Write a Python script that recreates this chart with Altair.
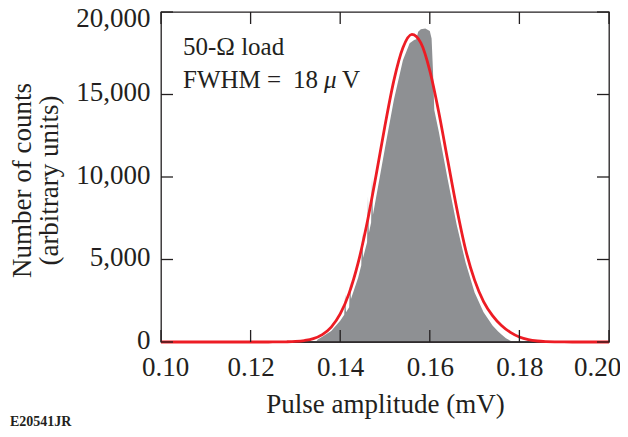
import altair as alt
import pandas as pd

# Gaussian fit (red curve)
fit_x = [0.100, 0.110, 0.120, 0.124, 0.126, 0.128, 0.130, 0.132, 0.134, 0.136, 0.138,
         0.140, 0.142, 0.144, 0.146, 0.148, 0.150, 0.152, 0.154, 0.156, 0.158, 0.160,
         0.162, 0.164, 0.166, 0.168, 0.170, 0.172, 0.174, 0.176, 0.178, 0.180, 0.182,
         0.184, 0.186, 0.188, 0.190, 0.194, 0.200]
fit_y = [0, 0, 0, 1, 5, 13, 35, 90, 205, 450, 905,
         1700, 2960, 4790, 7210, 10090, 13120, 15870, 17830, 18640, 18130, 16450,
         13930, 11010, 8120, 5590, 3750, 2450, 1600, 1000, 580, 300, 140,
         60, 25, 10, 4, 0, 0]

hist_x = [0.1330, 0.1345, 0.1350, 0.1360, 0.1380, 0.1400, 0.1409, 0.1411, 0.1413, 0.1420,
          0.1422, 0.1424, 0.1440, 0.1447, 0.1449, 0.1451, 0.1460, 0.1462, 0.1464, 0.1469,
          0.1471, 0.1473, 0.1480, 0.1500, 0.1520, 0.1540, 0.1555, 0.1565, 0.1570, 0.1574,
          0.1580, 0.1590, 0.1600, 0.1604, 0.1607, 0.1610, 0.1620, 0.1640, 0.1660, 0.1680,
          0.1700, 0.1720, 0.1740, 0.1752, 0.1760, 0.1770, 0.1780, 0.1786, 0.1800]
hist_y = [0, 0, 150, 320, 667, 1290, 1650, 2900, 1800, 2100,
          3600, 2600, 3890, 4650, 6600, 5100, 6050, 8800, 6600, 7250,
          9950, 7700, 8750, 11760, 14700, 17070, 18100, 18300, 18350, 18800,
          18950, 19000, 18850, 18400, 16500, 14060, 12760, 9850, 7100, 4800,
          3000, 1800, 1000, 650, 450, 230, 70, 0, 0]

x_ticks = [0.10, 0.12, 0.14, 0.16, 0.18, 0.20]
y_ticks = [0, 5000, 10000, 15000, 20000]

x_title = "Pulse amplitude (mV)"
y_title = ["Number of counts", "(arbitrary units)"]
note_line1 = "50-Ω load"
note_parts = ["FWHM", "=", "18", "μ", "V"]
fig_id = "E20541JR"

W, H = 448, 330
INK = "#231f20"
GRAY = "#8e9093"
RED = "#ed1c24"
FONT = "Liberation Serif"

xs = alt.Scale(domain=[0.10, 0.20], nice=False, zero=False)
ys = alt.Scale(domain=[0, 20000], nice=False)

x_axis = alt.Axis(
    values=x_ticks, format=".2f", title=x_title, labelPadding=12, labelFlush=False,
    labelOffset={"condition": [{"test": "datum.value < 0.105", "value": 4},
                               {"test": "datum.value > 0.195", "value": -12}],
                 "value": 0},
    titleY=70, titleBaseline="alphabetic")
y_axis = alt.Axis(
    values=y_ticks, format=",d", title=y_title, labelPadding=11, labelFlush=False,
    labelOffset={"condition": {"test": "datum.value > 19999", "value": 6}, "value": -2},
    titleX=-131, titleY=168, titleAngle=270, titleBaseline="alphabetic",
    titleAlign="center", titleLineHeight=27)

X = lambda: alt.X("x:Q", scale=xs, axis=x_axis)
Y = lambda: alt.Y("y:Q", scale=ys, axis=y_axis)

hist = alt.Chart(pd.DataFrame({"x": hist_x, "y": hist_y})).mark_area(
    color=GRAY, interpolate="linear"
).encode(x=X(), y=Y())

baseline = alt.Chart(pd.DataFrame({"y": [0]})).mark_rule(color=INK, strokeWidth=1.3).encode(
    y=Y(), x=alt.value(0), x2=alt.value(W)
)

fit = alt.Chart(pd.DataFrame({"x": fit_x, "y": fit_y})).mark_line(
    color=RED, strokeWidth=2.8, interpolate="monotone"
).encode(x=X(), y=Y())

TL = 12
xt = pd.DataFrame({"x": x_ticks})
yt = pd.DataFrame({"y": y_ticks})
tick_bottom = alt.Chart(xt).mark_rule(color=INK, strokeWidth=1.3).encode(
    x=X(), y=alt.value(H), y2=alt.value(H - TL))
tick_top = alt.Chart(xt).mark_rule(color=INK, strokeWidth=1.3).encode(
    x=X(), y=alt.value(0), y2=alt.value(TL))
tick_left = alt.Chart(yt).mark_rule(color=INK, strokeWidth=1.3).encode(
    y=Y(), x=alt.value(0), x2=alt.value(TL))
tick_right = alt.Chart(yt).mark_rule(color=INK, strokeWidth=1.3).encode(
    y=Y(), x=alt.value(W), x2=alt.value(W - TL))


def label(txt, x, y, size=25, style="normal", weight="normal"):
    return alt.Chart(pd.DataFrame({"t": [txt]})).mark_text(
        align="left", baseline="alphabetic", font=FONT, fontSize=size,
        fontStyle=style, fontWeight=weight, color=INK
    ).encode(x=alt.value(x), y=alt.value(y), text="t:N")


texts = [
    label(note_line1, 22, 43),
    label(note_parts[0], 22, 76),
    label(note_parts[1], 106, 76),
    label(note_parts[2], 132, 76),
    label(note_parts[3], 163, 76, style="italic"),
    label(note_parts[4], 181, 76),
    label(fig_id, -151, 414, size=14, weight="bold"),
]

chart = alt.layer(
    hist, baseline, fit, tick_bottom, tick_top, tick_left, tick_right, *texts
).properties(
    width=W, height=H,
    padding={"left": 153, "top": 4, "right": 11, "bottom": 87},
    autosize=alt.AutoSizeParams(type="none"),
    background="white",
).configure_view(
    stroke=INK, strokeWidth=1.3
).configure_axis(
    domain=False, ticks=False, grid=False,
    labelFont=FONT, labelFontSize=27, labelColor=INK,
    titleFont=FONT, titleFontSize=27, titleFontWeight="normal", titleColor=INK,
)

chart.save("out.html", embed_options={"renderer": "svg", "actions": False})
